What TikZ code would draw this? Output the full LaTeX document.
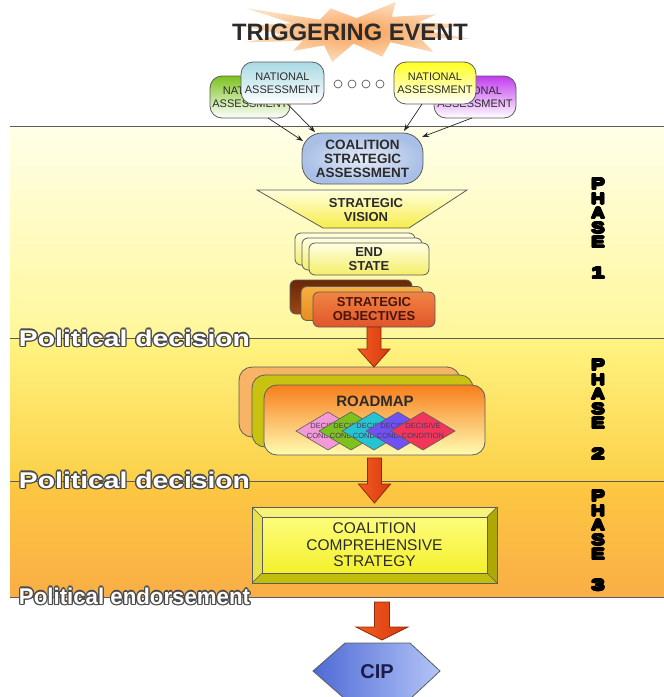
\documentclass[tikz,border=0pt]{standalone}
\usepackage{fontspec}
\setmainfont{Liberation Sans}
\usetikzlibrary{shapes.geometric,arrows.meta,calc}

\definecolor{ink}{HTML}{2B2B2B}
\definecolor{rim}{HTML}{5C5C5C}
\definecolor{labelrim}{HTML}{4A4A4A}
\definecolor{bandA}{HTML}{FFFFE8}
\definecolor{bandB}{HTML}{FFF79A}
\definecolor{bandC}{HTML}{FFF482}
\definecolor{bandD}{HTML}{FCD048}
\definecolor{bandE}{HTML}{FDC842}
\definecolor{bandF}{HTML}{F9AE46}
\definecolor{burstIn}{HTML}{F8A055}
\definecolor{burstOut}{HTML}{FCDDBE}
\definecolor{natgreen}{HTML}{7CC21E}
\definecolor{natblue}{HTML}{A9D9E3}
\definecolor{natyellow}{HTML}{FFFF22}
\definecolor{natpurple}{HTML}{C33CF0}
\definecolor{csaIn}{HTML}{E6ECF8}
\definecolor{csaOut}{HTML}{A9BFE6}
\definecolor{visTop}{HTML}{FFFFDC}
\definecolor{visBot}{HTML}{F7EC4A}
\definecolor{esTop}{HTML}{FFFFE2}
\definecolor{esBot}{HTML}{F4EE6A}
\definecolor{soBackT}{HTML}{6A2808}
\definecolor{soBackB}{HTML}{9C4616}
\definecolor{soMidT}{HTML}{F6B040}
\definecolor{soMidB}{HTML}{E88A1E}
\definecolor{soFrontT}{HTML}{F28444}
\definecolor{soFrontB}{HTML}{E0552A}
\definecolor{soInk}{HTML}{4A1408}
\definecolor{rmBack}{HTML}{F8B466}
\definecolor{rmMid}{HTML}{C9C210}
\definecolor{rmTop}{HTML}{F77E1C}
\definecolor{rmMidC}{HTML}{FBC678}
\definecolor{rmBot}{HTML}{FFFDB2}
\definecolor{dcPink}{HTML}{F39AD6}
\definecolor{dcGreen}{HTML}{7DC21C}
\definecolor{dcCyan}{HTML}{26C4D0}
\definecolor{dcBlue}{HTML}{6F52F2}
\definecolor{dcRed}{HTML}{F2365A}
\definecolor{dcInk}{HTML}{4B3560}
\definecolor{faceTop}{HTML}{FFFF8A}
\definecolor{faceBot}{HTML}{F2EE1E}
\definecolor{bevTop}{HTML}{F6F27A}
\definecolor{bevLeft}{HTML}{E6E24A}
\definecolor{bevBot}{HTML}{C2BC0C}
\definecolor{bevRight}{HTML}{AEA806}
\definecolor{arrL}{HTML}{F45C22}
\definecolor{arrR}{HTML}{D63A0E}
\definecolor{arrRim}{HTML}{8E2A08}
\definecolor{cipL}{HTML}{4E6AD6}
\definecolor{cipR}{HTML}{B4C4F6}
\definecolor{cipInk}{HTML}{1C1C4A}

% outlined lettering: the text is stamped in the rim colour at small offsets, then filled
\newsavebox\glyphbox
\newdimen\glyphrim
\newcommand\hollowtext[4][1.2pt]{%
  \setbox\glyphbox\hbox{#4}\glyphrim=#1\relax
  \leavevmode
  \rlap{\color{#2}\kern-\glyphrim\copy\glyphbox}%
  \rlap{\color{#2}\kern\glyphrim\copy\glyphbox}%
  \rlap{\color{#2}\raisebox{\glyphrim}{\copy\glyphbox}}%
  \rlap{\color{#2}\raisebox{-\glyphrim}{\copy\glyphbox}}%
  \rlap{\color{#2}\kern-0.7\glyphrim\raisebox{0.7\glyphrim}{\copy\glyphbox}}%
  \rlap{\color{#2}\kern0.7\glyphrim\raisebox{0.7\glyphrim}{\copy\glyphbox}}%
  \rlap{\color{#2}\kern-0.7\glyphrim\raisebox{-0.7\glyphrim}{\copy\glyphbox}}%
  \rlap{\color{#2}\kern0.7\glyphrim\raisebox{-0.7\glyphrim}{\copy\glyphbox}}%
  {\color{#3}\copy\glyphbox}}
\newcommand\phaseglyph[1]{\hollowtext[1pt]{black}{black}{\resizebox{13.5pt}{11pt}{\bfseries #1}}}
\newcommand\politicallabel[1]{\hollowtext[1.3pt]{labelrim}{white}{\resizebox{231pt}{16.5pt}{\bfseries #1}}}

% vertical block arrow: #1 start point, #2 tip point, #3 shaft half width, #4 head half width, #5 head length
\newcommand\blockarrow[5]{%
  \draw[blockarrow] let \p1=(#1), \p2=(#2) in
    (\x2-#3,\y1) -- (\x2+#3,\y1) -- (\x2+#3,\y2+#5) -- (\x2+#4,\y2+#5) -- (\x2,\y2)
    -- (\x2-#4,\y2+#5) -- (\x2-#3,\y2+#5) -- cycle;}

\begin{document}
\begin{tikzpicture}[x=1pt,y=-1pt,
  every node/.style={inner sep=0pt,outer sep=0pt},
  sepline/.style={draw=rim,line width=1pt},
  natbox/.style={draw=rim,line width=0.8pt,rounded corners=12pt,minimum height=42pt,
    align=center,text=ink,font=\fontsize{11}{12.5}\selectfont,bottom color=white},
  boldtext/.style={font=\bfseries\fontsize{13}{14}\selectfont,align=center,text=ink},
  stackbox/.style={draw=rim,line width=0.8pt,rounded corners=6pt},
  connector/.style={-{Stealth[length=7pt,width=5pt]},line width=0.7pt,draw=black!85},
  blockarrow/.style={draw=arrRim,line width=0.8pt,left color=arrL,right color=arrR},
  decisive/.style={shape=diamond,draw=rim,line width=0.6pt,minimum width=64pt,minimum height=38pt},
  decisivetext/.style={align=center,text=dcInk,font=\fontsize{7.5}{9.5}\selectfont},
]
\useasboundingbox (0,0) rectangle (664,697);

% phase bands
\shade[top color=bandA,bottom color=bandB] (10,126) rectangle (664,338);
\shade[top color=bandC,bottom color=bandD] (10,338) rectangle (664,481);
\shade[top color=bandE,bottom color=bandF] (10,481) rectangle (664,597);
\draw[sepline] (10,126) -- (664,126);
\draw[sepline] (10,338) -- (664,338);
\draw[sepline] (10,481) -- (664,481);
\draw[sepline] (10,597) -- (664,597);

% triggering event burst
\shade[inner color=burstIn,outer color=burstOut]
  (356.5,18.1) -- (395.6,2) -- (391.8,16.8) -- (436.2,14.4) -- (418.5,22.3) -- (464.7,24.6)
  -- (428.0,31.1) -- (470,38.9) -- (419.9,38.0) -- (433.7,52.3) -- (390.3,42.2) -- (382.2,56.8)
  -- (353.7,43.5) -- (332.2,62) -- (324.1,45.4) -- (293.0,50.9) -- (302.6,40.7) -- (244.4,42.5)
  -- (282.1,34.7) -- (243,25.9) -- (291.6,23.2) -- (246.9,8.4) -- (319.8,19.6) -- (330.8,8.4) -- cycle;
\node[font=\bfseries\fontsize{23.7}{26}\selectfont,text=ink] (trigger) at (350,32.5) {TRIGGERING EVENT};

% national assessments
\node[natbox,minimum width=80pt,top color=natgreen] (natA) at (250,97) {NATIONAL\\ASSESSMENT};
\node[natbox,minimum width=82pt,top color=natpurple] (natD) at (475,97) {NATIONAL\\ASSESSMENT};
\node[natbox,minimum width=83pt,top color=natblue] (natB) at (282.5,83) {NATIONAL\\ASSESSMENT};
\node[natbox,minimum width=82pt,top color=natyellow] (natC) at (435,83) {NATIONAL\\ASSESSMENT};
\foreach \i/\x in {1/338,2/352,3/366,4/380}
  \node[circle,draw=rim,fill=white,line width=0.7pt,minimum size=8pt] (dot\i) at (\x,84) {};

% coalition strategic assessment
\node[boldtext,draw=rim,line width=0.8pt,rounded corners=20pt,minimum width=121pt,minimum height=51pt,
  inner color=csaIn,outer color=csaOut,font=\bfseries\fontsize{13.5}{14}\selectfont] (csa) at (362.5,158.5)
  {COALITION\\STRATEGIC\\ASSESSMENT};
\coordinate (inA) at (303,141);
\coordinate (inB) at (315,132);
\coordinate (inC) at (404,131);
\coordinate (inD) at (422,137);
\draw[connector] ([xshift=18pt]natA.south) -- (inA);
\draw[connector] ([xshift=5pt]natB.south) -- (inB);
\draw[connector] ([xshift=-13pt]natC.south) -- (inC);
\draw[connector] ([xshift=-3pt]natD.south) -- (inD);

% strategic vision funnel
\shade[top color=visTop,bottom color=visBot,draw=rim,line width=0.8pt]
  (257,190) -- (467,190) -- (409,228) -- (323,228) -- cycle;
\node[boldtext] (vision) at (366,210) {STRATEGIC\\VISION};

% end state stack
\node[stackbox,minimum width=120pt,minimum height=32pt,top color=esTop,bottom color=esBot] (es3) at (355,249) {};
\node[stackbox,minimum width=120pt,minimum height=32pt,top color=esTop,bottom color=esBot] (es2) at (362,254) {};
\node[stackbox,minimum width=120pt,minimum height=32pt,top color=esTop,bottom color=esBot,boldtext] (es1) at (369,259) {END\\STATE};

% strategic objectives stack
\node[stackbox,minimum width=122pt,minimum height=34pt,top color=soBackT,bottom color=soBackB] (so3) at (351,297) {};
\node[stackbox,minimum width=122pt,minimum height=34pt,top color=soMidT,bottom color=soMidB] (so2) at (362,303.5) {};
\node[stackbox,minimum width=122pt,minimum height=35pt,top color=soFrontT,bottom color=soFrontB,boldtext,text=soInk] (so1) at (374,309.5) {STRATEGIC\\OBJECTIVES};

% roadmap stack
\node[stackbox,rounded corners=13pt,minimum width=221pt,minimum height=70pt,fill=rmBack] (rm3) at (349.5,402) {};
\node[stackbox,rounded corners=13pt,minimum width=221pt,minimum height=72pt,fill=rmMid] (rm2) at (362.5,411) {};
\node[stackbox,rounded corners=13pt,minimum width=221pt,minimum height=70pt,top color=rmTop,middle color=rmMidC,bottom color=rmBot] (rm1) at (374.5,420) {};
\node[boldtext,font=\bfseries\fontsize{15}{16}\selectfont] (roadmap) at (375,401) {ROADMAP};
\foreach \i/\x/\c in {1/328/dcPink,2/351/dcGreen,3/374/dcCyan,4/398/dcBlue,5/423/dcRed}{
  \node[decisive,fill=\c] (dc\i) at (\x,431) {};
  \node[decisivetext] (dct\i) at (dc\i) {DECISIVE\\CONDITION};
}

% coalition comprehensive strategy, bevelled frame
\node[draw=rim,line width=0.8pt,minimum width=245pt,minimum height=76pt,top color=faceTop,bottom color=faceBot,
  align=center,text=ink,font=\fontsize{15.5}{16.5}\selectfont] (ccs) at (374.5,545)
  {COALITION\\COMPREHENSIVE\\STRATEGY};
\coordinate (ccsA) at ([xshift=10pt,yshift=-10pt]ccs.north west);
\coordinate (ccsB) at ([xshift=-10pt,yshift=-10pt]ccs.north east);
\coordinate (ccsC) at ([xshift=-10pt,yshift=10pt]ccs.south east);
\coordinate (ccsD) at ([xshift=10pt,yshift=10pt]ccs.south west);
\fill[bevTop] (ccs.north west) -- (ccs.north east) -- (ccsB) -- (ccsA) -- cycle;
\fill[bevLeft] (ccs.north west) -- (ccsA) -- (ccsD) -- (ccs.south west) -- cycle;
\fill[bevBot] (ccs.south west) -- (ccsD) -- (ccsC) -- (ccs.south east) -- cycle;
\fill[bevRight] (ccs.north east) -- (ccs.south east) -- (ccsC) -- (ccsB) -- cycle;
\draw[rim,line width=0.8pt] (ccs.north west) rectangle (ccs.south east);
\draw[rim,line width=0.8pt] (ccsA) rectangle (ccsC);
\draw[rim,line width=0.5pt] (ccs.north west) -- (ccsA) (ccs.north east) -- (ccsB)
  (ccs.south east) -- (ccsC) (ccs.south west) -- (ccsD);

% CIP hexagon
\shade[left color=cipL,right color=cipR,draw=rim,line width=0.8pt]
  (345,643) -- (410,643) -- (440,671) -- (410,699) -- (345,699) -- (313,671) -- cycle;
\node[font=\bfseries\fontsize{20}{22}\selectfont,text=cipInk] (cip) at (377,672) {CIP};
\coordinate (ciptop) at (382,643);
\coordinate (arr3top) at (382,602);

% block arrows between the stages
\blockarrow{so1.south}{so1.south |- rm3.north}{7pt}{16pt}{18pt}
\blockarrow{[yshift=-3pt]rm1.south}{[yshift=4pt]rm1.south |- ccs.north}{7pt}{16pt}{19pt}
\blockarrow{arr3top}{[yshift=3pt]ciptop}{7.5pt}{26pt}{13pt}

% political milestones
\node[anchor=west] (pd1) at (19,338) {\politicallabel{Political decision}};
\node[anchor=west] (pd2) at (19,480) {\politicallabel{Political decision}};
\node[anchor=west] (pe) at (19,596) {\politicallabel{Political endorsement}};

% phase captions
\foreach \ph/\y in {1/184,2/365,3/496}{
  \foreach \ch [count=\k from 0] in {P,H,A,S,E}
    \node (ph\ph-\k) at (598,\y+14.6*\k) {\phaseglyph{\ch}};
  \node (ph\ph-n) at (598,\y+89) {\phaseglyph{\ph}};
}
\end{tikzpicture}
\end{document}
